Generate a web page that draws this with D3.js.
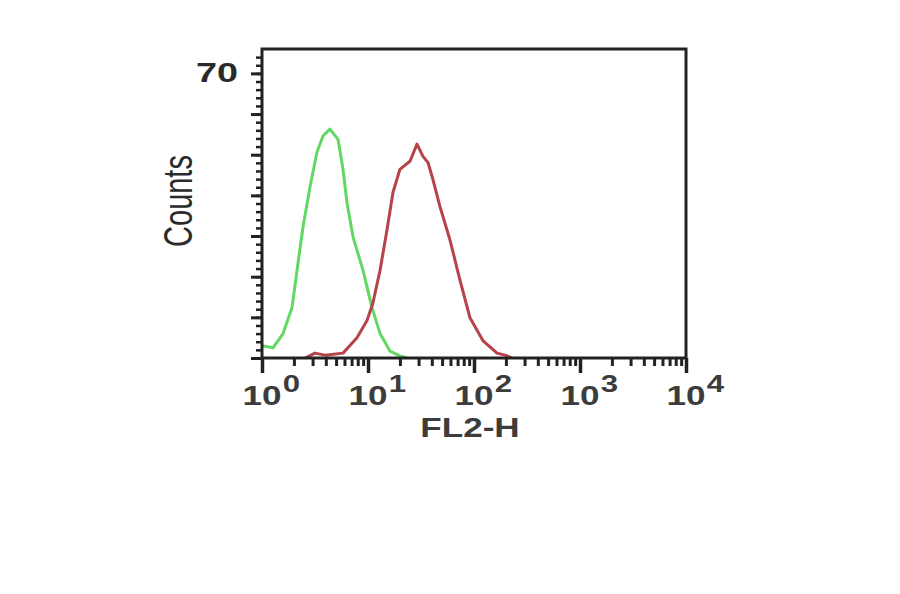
<!DOCTYPE html>
<html>
<head>
<meta charset="utf-8">
<script src="https://cdn.jsdelivr.net/npm/d3@7"></script>
<style>
  body { margin: 0; background: #fff; }
  svg { font-family: "Liberation Sans", Arial, sans-serif; }
</style>
</head>
<body>
<svg width="900" height="594"></svg>
<script>
// fluorescence (FL2-H) vs counts
const isotypeFl = [1.0, 1.27, 1.58, 1.92, 2.14, 2.44, 2.84, 3.30, 3.76, 4.38, 5.21, 5.81, 6.34, 7.22, 8.97, 10.9, 13.0, 16.1, 20.0, 23.3];
const isotypeCounts = [3, 2.5, 6, 12.4, 21.6, 32.3, 42.2, 50.6, 54.6, 56.3, 53.8, 46.4, 38.2, 29.8, 21.6, 12.4, 6.0, 1.7, 0.5, 0];

const stainedFl = [2.55, 3.16, 3.93, 5.81, 7.87, 9.79, 11.1, 13.0, 15.1, 17.2, 20.0, 24.9, 29.0, 33.0, 36.8, 41.0, 47.8, 59.4, 73.8, 91.6, 122, 165, 196, 228];
const stainedCounts = [0, 1.2, 0.7, 1.2, 5.0, 9.2, 13.4, 21.6, 31.5, 40.7, 46.4, 48.4, 52.6, 49.6, 48.1, 43.9, 37.2, 29.0, 19.1, 9.9, 4.2, 1.2, 0.7, 0];

const xDecades = [0, 1, 2, 3, 4];
const yLabelled = [70];

const svg = d3.select("svg");
const plotLeft = 262, plotRight = 686, plotTop = 49, plotBottom = 358;
const stretch = 1.3; // the picture is widened horizontally

const x = d3.scaleLog().domain([1, 1e4]).range([plotLeft, plotRight]);
const y = d3.scaleLinear().domain([0, 76]).range([plotBottom, plotTop]);

svg.append("clipPath").attr("id", "plot")
  .append("rect").attr("x", plotLeft).attr("y", plotTop)
  .attr("width", plotRight - plotLeft).attr("height", plotBottom - plotTop);

const line = d3.line().x(d => x(d[0])).y(d => y(d[1]));

svg.append("path")
  .datum(d3.zip(isotypeFl, isotypeCounts))
  .attr("clip-path", "url(#plot)")
  .attr("fill", "none").attr("stroke", "#62d862").attr("stroke-width", 3)
  .attr("stroke-linejoin", "round")
  .attr("d", line);

svg.append("path")
  .datum(d3.zip(stainedFl, stainedCounts))
  .attr("clip-path", "url(#plot)")
  .attr("fill", "none").attr("stroke", "#b7424a").attr("stroke-width", 3)
  .attr("stroke-linejoin", "round")
  .attr("d", line);

// frame
svg.append("rect")
  .attr("x", plotLeft).attr("y", plotTop)
  .attr("width", plotRight - plotLeft).attr("height", plotBottom - plotTop)
  .attr("fill", "none").attr("stroke", "#222").attr("stroke-width", 3);

// x ticks
const minorX = [];
for (let e = 0; e < 4; e++) for (let m = 2; m <= 9; m++) minorX.push(m * Math.pow(10, e));
const majorX = xDecades.map(e => Math.pow(10, e));

svg.append("g")
  .attr("transform", `translate(0,${plotBottom})`)
  .call(d3.axisBottom(x).tickValues(minorX).tickSize(8).tickFormat(""))
  .call(g => g.select(".domain").remove())
  .call(g => g.selectAll("line").attr("stroke", "#222").attr("stroke-width", 3));

svg.append("g")
  .attr("transform", `translate(0,${plotBottom})`)
  .call(d3.axisBottom(x).tickValues(majorX).tickSize(15).tickFormat(""))
  .call(g => g.select(".domain").remove())
  .call(g => g.selectAll("line").attr("stroke", "#222").attr("stroke-width", 3.5));

// y ticks
const minorY = d3.range(0, 76, 2);
const majorY = d3.range(0, 76, 10);

svg.append("g")
  .attr("transform", `translate(${plotLeft},0)`)
  .call(d3.axisLeft(y).tickValues(minorY).tickSize(6).tickFormat(""))
  .call(g => g.select(".domain").remove())
  .call(g => g.selectAll("line").attr("stroke", "#222").attr("stroke-width", 2.5));

svg.append("g")
  .attr("transform", `translate(${plotLeft},0)`)
  .call(d3.axisLeft(y).tickValues(majorY).tickSize(11).tickFormat(""))
  .call(g => g.select(".domain").remove())
  .call(g => g.selectAll("line").attr("stroke", "#222").attr("stroke-width", 3));

// x tick labels: 10 with superscript exponent
const xl = svg.append("g").selectAll("g")
  .data(xDecades)
  .join("g")
  .attr("transform", d => `translate(${x(Math.pow(10, d))},405) scale(${stretch},1)`)
  .attr("fill", "#3c3c3c").attr("font-weight", "bold");
xl.append("text").attr("text-anchor", "middle").attr("font-size", 27).text("10");
xl.append("text").attr("x", 16).attr("y", -13).attr("font-size", 24).text(d => d);

// y tick label
svg.append("g").selectAll("text")
  .data(yLabelled)
  .join("text")
  .attr("transform", d => `translate(${plotLeft - 24},${y(d) + 9}) scale(${stretch + 0.1},1)`)
  .attr("text-anchor", "end").attr("font-size", 27).attr("font-weight", "bold")
  .attr("fill", "#2a2a2a")
  .text(d => d);

// axis titles
svg.append("text")
  .attr("transform", `translate(470,437) scale(${stretch},1)`)
  .attr("text-anchor", "middle").attr("font-size", 27).attr("font-weight", "bold")
  .attr("fill", "#3c3c3c")
  .text("FL2-H");

svg.append("text")
  .attr("transform", `translate(192,201) scale(1.4,1) rotate(-90)`)
  .attr("text-anchor", "middle").attr("font-size", 29)
  .attr("fill", "#2a2a2a")
  .text("Counts");
</script>
</body>
</html>
